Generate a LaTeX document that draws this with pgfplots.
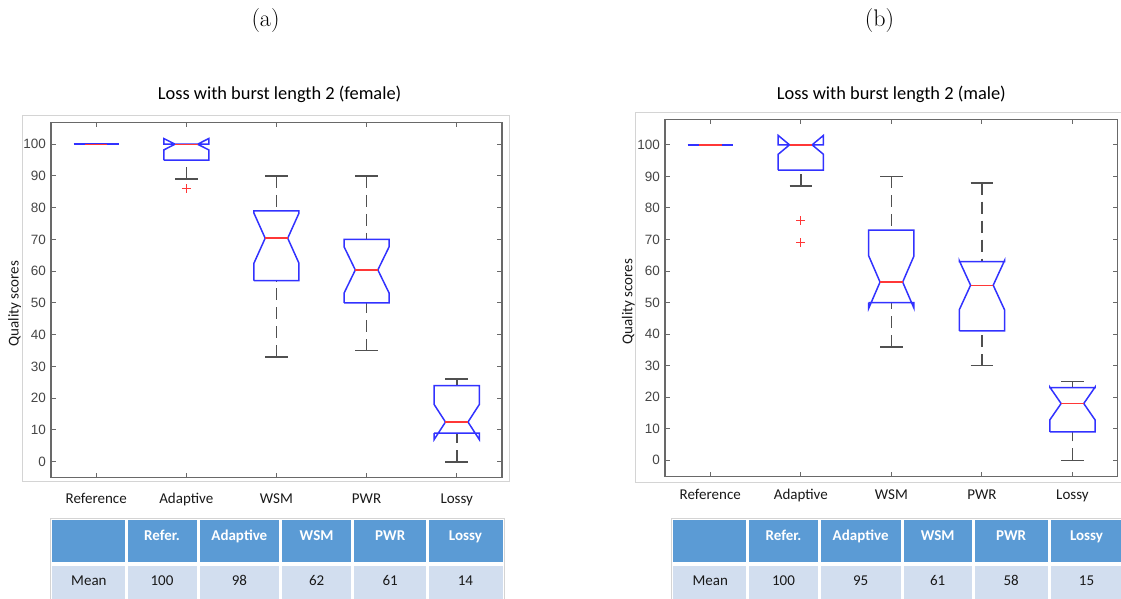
\documentclass[border=0pt]{standalone}
\usepackage{fontspec}
\newfontfamily\carl{Carlito}
\newfontfamily\arialf{Liberation Sans}
\usepackage{pgfplots}
\pgfplotsset{compat=1.18}
\definecolor{mblue}{RGB}{50,50,255}
\definecolor{mred}{RGB}{255,55,55}
\definecolor{wgray}{RGB}{80,80,80}
\definecolor{axgray}{RGB}{105,105,105}
\definecolor{tickgray}{RGB}{70,70,70}
\definecolor{framegray}{RGB}{212,212,212}
\definecolor{hdrblue}{RGB}{91,155,213}
\definecolor{rowblue}{RGB}{210,222,239}
\pgfplotsset{
  mbox/.style={
    scale only axis, anchor=south west,
    xmin=0.5, xmax=5.5,
    xtick={1,2,3,4,5}, xticklabels={Reference,Adaptive,WSM,PWR,Lossy},
    ytick={0,10,...,100},
    tick align=inside, major tick length=5pt,
    axis line style={axgray, line width=1.5pt},
    every tick/.style={axgray, line width=1pt},
    /pgf/number format/assume math mode=true,
    xticklabel style={font=\carl\fontsize{15}{18}\selectfont, color=black!90, anchor=base},
    yticklabel style={font=\arialf\fontsize{13.5}{16}\selectfont, color=tickgray, anchor=east, inner sep=0pt, xshift=-5pt},
    ylabel={Quality scores},
    ylabel style={at={(axis description cs:-0.081,0.49)}, anchor=center, font=\carl\fontsize{15}{18}\selectfont, color=black!90},
    title style={anchor=base, font=\carl\fontsize{18.4}{22}\selectfont, color=black},
  },
  bx/.style={mblue, line width=1.5pt, line join=miter},
  md/.style={mred, line width=1.4pt},
  wh/.style={wgray, line width=1.6pt, dash pattern=on 12pt off 7pt},
  cp/.style={wgray, line width=1.6pt},
  ol/.style={only marks, mark=+, mark size=4.5pt, mred, mark options={line width=1.1pt}},
}
\begin{document}
\begin{tikzpicture}[x=1pt,y=1pt]
\useasboundingbox (0,0) rectangle (1121,598);
% panel labels
\node[font=\fontsize{24}{28}\selectfont] at (265.5,577) {(a)};
\node[font=\fontsize{24}{28}\selectfont] at (879.5,577) {(b)};
% figure frames
\draw[framegray, line width=1pt] (22.5,482) rectangle (509,116.3);
\draw[framegray, line width=1pt] (635.7,485.7) rectangle (1135,115.7);

% ---------------- (a) female ----------------
\begin{axis}[mbox, at={(51.1pt,120.3pt)}, width=450.7pt, height=355.4pt,
  ymin=-5.04, ymax=106.9,
  title={Loss with burst length 2 (female)}, title style={at={(axis description cs:0.507,1)}, yshift=16.3pt},
  xticklabel style={yshift=-25.3pt}]
% Reference
\addplot[bx] coordinates {(0.75,100) (1.25,100)};
\addplot[md] coordinates {(0.875,100) (1.125,100)};
% Adaptive
\addplot[wh] coordinates {(2,89) (2,95)};
\addplot[cp] coordinates {(1.875,89) (2.125,89)};
\addplot[bx] coordinates {(1.75,95) (1.75,98.2) (1.875,100) (1.75,101.8) (1.75,100) (2.25,100) (2.25,101.8) (2.125,100) (2.25,98.2) (2.25,95) (1.75,95)};
\addplot[md] coordinates {(1.875,100) (2.125,100)};
\addplot[ol] coordinates {(2,86)};
% WSM
\addplot[wh] coordinates {(3,90) (3,79)};
\addplot[wh] coordinates {(3,33) (3,57)};
\addplot[cp] coordinates {(2.875,90) (3.125,90)};
\addplot[cp] coordinates {(2.875,33) (3.125,33)};
\addplot[bx] coordinates {(2.75,57) (2.75,62.5) (2.875,70.4) (2.75,78.3) (2.75,79) (3.25,79) (3.25,78.3) (3.125,70.4) (3.25,62.5) (3.25,57) (2.75,57)};
\addplot[md] coordinates {(2.875,70.4) (3.125,70.4)};
% PWR
\addplot[wh] coordinates {(4,90) (4,70)};
\addplot[wh] coordinates {(4,35) (4,50)};
\addplot[cp] coordinates {(3.875,90) (4.125,90)};
\addplot[cp] coordinates {(3.875,35) (4.125,35)};
\addplot[bx] coordinates {(3.75,50) (3.75,53.1) (3.875,60.4) (3.75,67.7) (3.75,70) (4.25,70) (4.25,67.7) (4.125,60.4) (4.25,53.1) (4.25,50) (3.75,50)};
\addplot[md] coordinates {(3.875,60.4) (4.125,60.4)};
% Lossy
\addplot[wh] coordinates {(5,26) (5,24)};
\addplot[wh] coordinates {(5,0) (5,9)};
\addplot[cp] coordinates {(4.875,26) (5.125,26)};
\addplot[cp] coordinates {(4.875,0) (5.125,0)};
\addplot[bx] coordinates {(4.75,9) (4.75,7) (4.875,12.5) (4.75,18) (4.75,24) (5.25,24) (5.25,18) (5.125,12.5) (5.25,7) (5.25,9) (4.75,9)};
\addplot[md] coordinates {(4.875,12.5) (5.125,12.5)};
\end{axis}

% ---------------- (b) male ----------------
\begin{axis}[mbox, at={(665pt,121.3pt)}, width=452.7pt, height=357.4pt,
  ymin=-5.2, ymax=108.1,
  title={Loss with burst length 2 (male)}, title style={at={(axis description cs:0.5,1)}, yshift=13.3pt},
  xticklabel style={yshift=-22.3pt}]
% Reference
\addplot[bx] coordinates {(0.75,100) (1.25,100)};
\addplot[md] coordinates {(0.875,100) (1.125,100)};
% Adaptive
\addplot[wh] coordinates {(2,87) (2,92)};
\addplot[cp] coordinates {(1.875,87) (2.125,87)};
\addplot[bx] coordinates {(1.75,92) (1.75,97) (1.875,100) (1.75,103) (1.75,100) (2.25,100) (2.25,103) (2.125,100) (2.25,97) (2.25,92) (1.75,92)};
\addplot[md] coordinates {(1.875,100) (2.125,100)};
\addplot[ol] coordinates {(2,76) (2,69)};
% WSM
\addplot[wh] coordinates {(3,90) (3,73)};
\addplot[wh] coordinates {(3,36) (3,50)};
\addplot[cp] coordinates {(2.875,90) (3.125,90)};
\addplot[cp] coordinates {(2.875,36) (3.125,36)};
\addplot[bx] coordinates {(2.75,50) (2.75,48.2) (2.875,56.5) (2.75,64.8) (2.75,73) (3.25,73) (3.25,64.8) (3.125,56.5) (3.25,48.2) (3.25,50) (2.75,50)};
\addplot[md] coordinates {(2.875,56.5) (3.125,56.5)};
% PWR
\addplot[wh] coordinates {(4,88) (4,63)};
\addplot[wh] coordinates {(4,30) (4,41)};
\addplot[cp] coordinates {(3.875,88) (4.125,88)};
\addplot[cp] coordinates {(3.875,30) (4.125,30)};
\addplot[bx] coordinates {(3.75,41) (3.75,47.7) (3.875,55.5) (3.75,63.3) (3.75,63) (4.25,63) (4.25,63.3) (4.125,55.5) (4.25,47.7) (4.25,41) (3.75,41)};
\addplot[md] coordinates {(3.875,55.5) (4.125,55.5)};
% Lossy
\addplot[wh] coordinates {(5,25) (5,23)};
\addplot[wh] coordinates {(5,0) (5,9)};
\addplot[cp] coordinates {(4.875,25) (5.125,25)};
\addplot[cp] coordinates {(4.875,0) (5.125,0)};
\addplot[bx] coordinates {(4.75,9) (4.75,12.8) (4.875,18) (4.75,23.2) (4.75,23) (5.25,23) (5.25,23.2) (5.125,18) (5.25,12.8) (5.25,9) (4.75,9)};
\addplot[md] coordinates {(4.875,18) (5.125,18)};
\end{axis}

% ---------------- tables ----------------
% left
\draw[framegray, line width=0.8pt] (50,-5) -- (50,79.7) -- (504.3,79.7) -- (504.3,-5);
\fill[hdrblue] (51.8,78) rectangle (502.9,36.3);
\fill[rowblue] (51.8,32.3) rectangle (502.9,-5);
\foreach \xx in {126,198,280.7,352.5,427.9} \fill[white] (\xx-1.5,79) rectangle (\xx+1.5,-5);
\begin{scope}[every node/.style={font=\carl\bfseries\fontsize{15}{18}\selectfont, text=white, anchor=base}]
\node at (162,58) {Refer.};
\node at (239.35,58) {Adaptive};
\node at (316.6,58) {WSM};
\node at (390.2,58) {PWR};
\node at (465.4,58) {Lossy};
\end{scope}
\begin{scope}[every node/.style={font=\carl\fontsize{15}{18}\selectfont, text=black!90, anchor=base}]
\node at (88.9,13) {Mean};
\node at (162,13) {100};
\node at (239.35,13) {98};
\node at (316.6,13) {62};
\node at (390.2,13) {61};
\node at (465.4,13) {14};
\end{scope}
% right
\draw[framegray, line width=0.8pt] (671.7,-5) -- (671.7,79.7) -- (1130,79.7);
\fill[hdrblue] (672.7,78) rectangle (1130,36.3);
\fill[rowblue] (672.7,32.3) rectangle (1130,-5);
\foreach \xx in {747.7,819.3,902,973.3,1049} \fill[white] (\xx-1.5,79) rectangle (\xx+1.5,-5);
\begin{scope}[every node/.style={font=\carl\bfseries\fontsize{15}{18}\selectfont, text=white, anchor=base}]
\node at (783.5,58) {Refer.};
\node at (860.65,58) {Adaptive};
\node at (937.65,58) {WSM};
\node at (1011.15,58) {PWR};
\node at (1086.5,58) {Lossy};
\end{scope}
\begin{scope}[every node/.style={font=\carl\fontsize{15}{18}\selectfont, text=black!90, anchor=base}]
\node at (710.2,13) {Mean};
\node at (783.5,13) {100};
\node at (860.65,13) {95};
\node at (937.65,13) {61};
\node at (1011.15,13) {58};
\node at (1086.5,13) {15};
\end{scope}
\end{tikzpicture}
\end{document}
